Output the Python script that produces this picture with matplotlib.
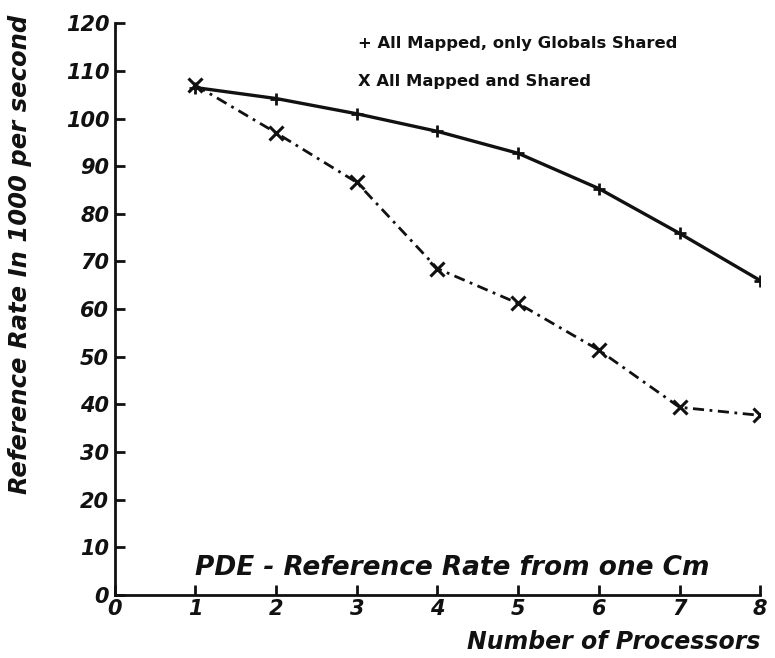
import matplotlib
matplotlib.use("Agg")
import matplotlib.pyplot as plt

# Data
processors = [1, 2, 3, 4, 5, 6, 7, 8]
globals_shared = [106.5, 104.2, 101.0, 97.3, 92.7, 85.3, 75.9, 66.0]
all_shared = [107.0, 97.0, 86.6, 68.5, 61.2, 51.4, 39.4, 37.7]

x_ticks = [0, 1, 2, 3, 4, 5, 6, 7, 8]
y_ticks = [0, 10, 20, 30, 40, 50, 60, 70, 80, 90, 100, 110, 120]

INK = "#111111"

plt.rcParams["font.family"] = "DejaVu Sans"

fig = plt.figure(figsize=(7.75, 6.58), dpi=100)
ax = fig.add_axes([0.148, 0.0957, 0.833, 0.869])

ax.plot(processors, globals_shared, color=INK, linewidth=2.4, marker="+",
        markersize=9, markeredgewidth=2)
ax.plot(processors, all_shared, color=INK, linewidth=2.0,
        linestyle=(0, (4, 2, 1, 2)), marker="x", markersize=10, markeredgewidth=2.2)

ax.set_xlim(0, 8)
ax.set_ylim(0, 120)
ax.set_xticks(x_ticks)
ax.set_yticks(y_ticks)

for side in ["top", "right"]:
    ax.spines[side].set_visible(False)
for side in ["left", "bottom"]:
    ax.spines[side].set_linewidth(2)
    ax.spines[side].set_color(INK)

ax.tick_params(direction="in", length=7, width=2, color=INK, labelcolor=INK)
ax.tick_params(axis="y", pad=4)
ax.tick_params(axis="x", pad=3)
for lbl in ax.get_xticklabels() + ax.get_yticklabels():
    lbl.set_fontsize(15)
    lbl.set_fontweight("bold")
    lbl.set_fontstyle("italic")

ax.set_ylabel("Reference Rate In 1000 per second", fontsize=17.5, fontweight="bold",
              fontstyle="italic", color=INK)
ax.yaxis.set_label_coords(-0.128, 0.595)

# caption inside the axes and x label at the bottom right
ax.text(0.125, 0.025, "PDE - Reference Rate from one Cm", transform=ax.transAxes,
        fontsize=19, fontweight="bold", fontstyle="italic", color=INK, va="bottom")
ax.text(1.0, -0.082, "Number of Processors", transform=ax.transAxes,
        fontsize=17, fontweight="bold", fontstyle="italic", color=INK, ha="right", va="center")

# legend written as text like the original
ax.text(0.377, 0.965, "+ All Mapped, only Globals Shared", transform=ax.transAxes,
        fontsize=11.8, fontweight="bold", color=INK, va="center")
ax.text(0.377, 0.898, "X All Mapped and Shared", transform=ax.transAxes,
        fontsize=11.8, fontweight="bold", color=INK, va="center")

fig.savefig("out.png", dpi=100)
